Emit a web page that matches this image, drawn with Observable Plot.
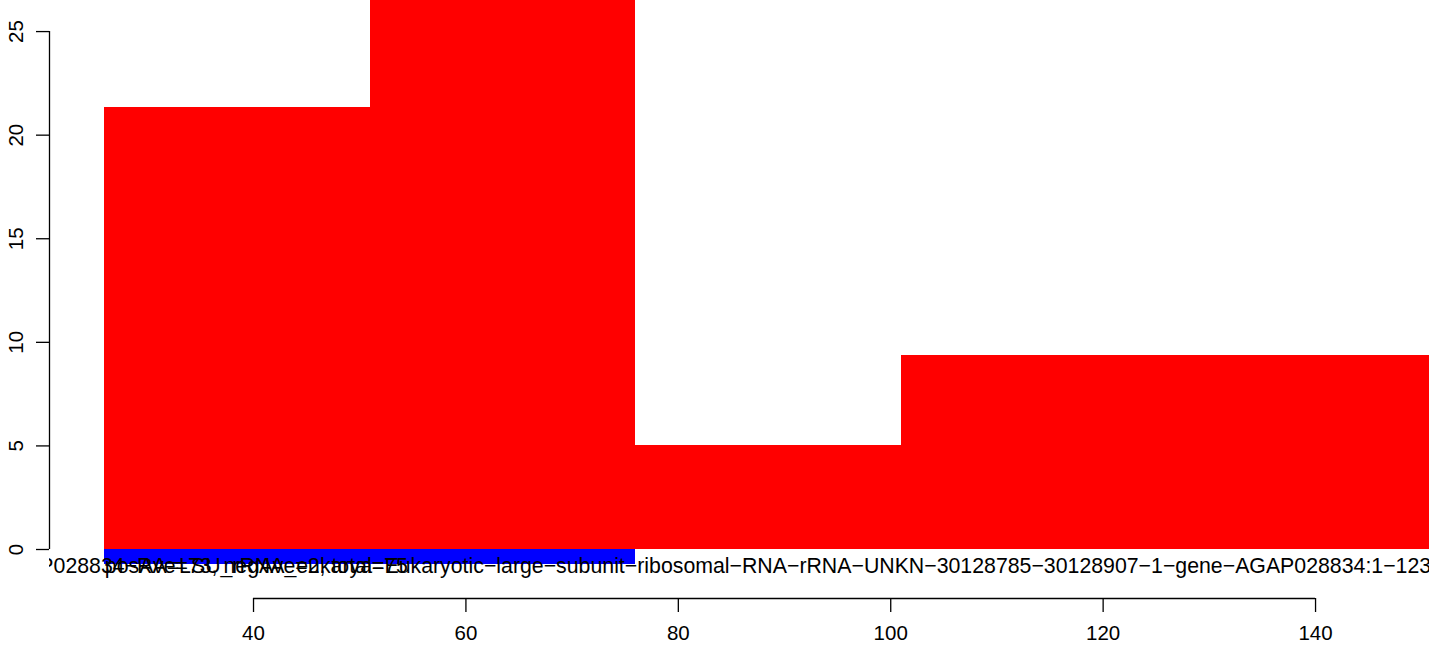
<!DOCTYPE html>
<html>
<head>
<meta charset="utf-8">
<script src="https://cdn.jsdelivr.net/npm/d3@7"></script>
<script src="https://cdn.jsdelivr.net/npm/@observablehq/plot@0.6"></script>
<style>
  html, body { margin: 0; padding: 0; background: #fff; overflow: hidden; }
  svg { display: block; }
</style>
</head>
<body>
<div id="chart"></div>
<script>
// Bars (red: positive, blue: negative)
const posStart = [26, 51, 76, 101];
const posEnd   = [51, 76, 101, 151];
const posValue = [21.33, 28, 5.03, 9.36];

const negStart = [26];
const negEnd   = [76];
const negValue = [-0.72];

// Labels
const labelText = [
  "AGAP028834\u2212RA=LSU_rRNA_eukarya=Eukaryotic\u2212large\u2212subunit\u2212ribosomal\u2212RNA\u2212rRNA\u2212UNKN\u221230128785\u221230128907\u22121\u2212gene\u2212AGAP028834:1\u22121234",
  "posAve=73, negAve=2, total=75"
];
const labelX = [15.6, 26];
const labelY = [-0.82, -0.82];

// Axes
const xTicks = [40, 60, 80, 100, 120, 140];
const yTicks = [0, 5, 10, 15, 20, 25];
const xDomain = [20.79, 150.73];
const yDomain = [-2.365, 26.5];

const posBars = posStart.map((s, i) => ({x1: s, x2: posEnd[i], y: posValue[i]}));
const negBars = negStart.map((s, i) => ({x1: s, x2: negEnd[i], y: negValue[i]}));
const labels = labelText.map((t, i) => ({text: t, x: labelX[i], y: labelY[i]}));

const FS = 21.3;
const TFS = 20.5;
const chart = Plot.plot({
  width: 1429,
  height: 646,
  marginLeft: 49,
  marginRight: 0,
  marginTop: 0,
  marginBottom: 48,
  style: {fontFamily: "'Liberation Sans', Arial, Helvetica, sans-serif", color: "#000", background: "#fff"},
  x: {domain: xDomain, label: null},
  y: {domain: yDomain, label: null},
  marks: [
    Plot.rect(posBars, {x1: "x1", x2: "x2", y1: 0, y2: "y", fill: "#ff0000", clip: true, shapeRendering: "crispEdges"}),
    Plot.rect(negBars, {x1: "x1", x2: "x2", y1: 0, y2: "y", fill: "#0000ff", clip: true, shapeRendering: "crispEdges"}),
    Plot.text(labels, {x: "x", y: "y", text: "text", textAnchor: "start", lineAnchor: "middle", fontSize: FS, fill: "#000", clip: true}),
    Plot.axisY({ticks: yTicks, anchor: "left", label: null, tickSize: 13, tickPadding: 14, tickRotate: -90, fontSize: TFS, stroke: "#000", strokeWidth: 1.3}),
    Plot.ruleX([xDomain[0]], {y1: yTicks[0], y2: yTicks[yTicks.length - 1], stroke: "#000", strokeWidth: 1.3}),
    Plot.axisX({ticks: xTicks, anchor: "bottom", label: null, tickSize: 14, tickPadding: 13, fontSize: TFS, stroke: "#000", strokeWidth: 1.3}),
    Plot.ruleY([yDomain[0]], {x1: xTicks[0], x2: xTicks[xTicks.length - 1], stroke: "#000", strokeWidth: 1.3})
  ]
});
document.getElementById("chart").appendChild(chart);
</script>
</body>
</html>
